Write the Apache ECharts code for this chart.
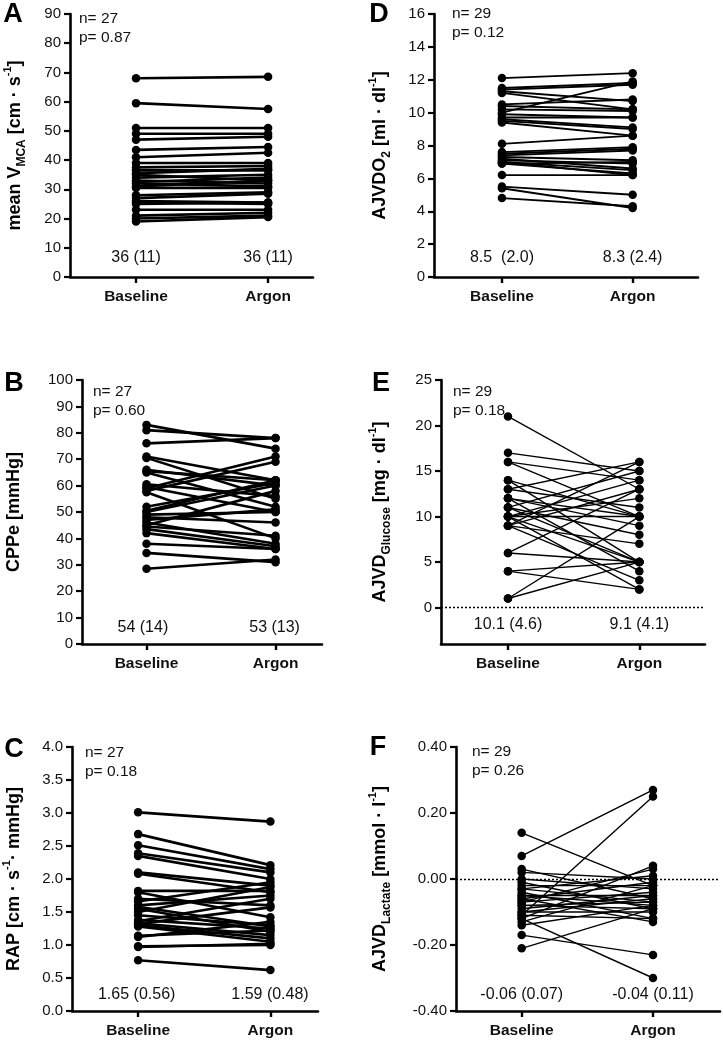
<!DOCTYPE html>
<html>
<head>
<meta charset="utf-8">
<script src="https://cdn.jsdelivr.net/npm/echarts@6/dist/echarts.min.js"></script>
<style>
html,body{margin:0;padding:0;background:#fff;}
#main{width:723px;height:1043px;}
</style>
</head>
<body>
<div id="main"></div>
<script>
// categories
var cats = ['Baseline', 'Argon'];

// A - mean V_MCA
var mcaBase  = [68,59.5,51,49,47,43.5,41,39,37.5,36.5,35.5,35,34,33,32.5,32,31,30.5,28,27,26,25.5,25,23,21,20,19];
var mcaArgon = [68.5,57.5,51,49,48,44.5,42.5,39,38,36.5,37,33,35,32,34,31,33,30.5,29,28.5,25.5,25,25.5,23,22,21,20.5];
// B - CPPe
var cppBase  = [83,81,76,71,70.5,66,65.5,65,60.5,59.5,59,58,57.5,52,50.5,50,49,48,47,46,45,44.5,43.5,42,38,34.5,28.5];
var cppArgon = [74,78,78,62,55,60,62,52,56,50,71,69,40,61,62,60,50,46,51,38,58,41,37,36,36,31,32];
// C - RAP
var rapBase  = [3.01,2.68,2.51,2.39,2.35,2.1,2.08,1.82,1.8,1.7,1.66,1.6,1.58,1.55,1.5,1.45,1.38,1.36,1.33,1.32,1.3,1.28,1.14,1.12,0.98,0.97,0.77];
var rapArgon = [2.87,2.21,2.15,2.1,2.0,1.9,1.8,1.82,1.42,1.6,1.95,1.75,1.28,1.2,1.88,1.3,1.25,1.7,1.15,1.57,1.1,1.05,1.22,1.35,1.0,1.02,0.62];
// D - AJVDO2
var do2Base  = [12.1,11.5,11.4,11.3,11.2,10.5,10.4,10.2,10.0,9.9,9.7,9.6,9.5,9.4,8.1,7.6,7.5,7.4,7.3,7.2,7.1,7.0,6.9,7.0,6.9,6.2,5.5,5.4,4.8];
var do2Argon = [12.4,11.8,11.7,10.7,10.2,10.8,10.2,10.1,11.9,9.7,9.7,9.1,9.0,8.6,8.6,7.9,7.8,7.7,7.1,6.6,6.9,6.5,6.3,6.2,7.0,6.2,5.0,4.2,4.3];
// E - AJVD glucose
var gluBase  = [21,17,16,16,14,14,13,13,12,12,12,11,11,11,10,10,10,10,10,9,9,9,9,6,6,4,4,1,1];
var gluArgon = [13,15,10,14,10,5,11,16,10,9,4,15,8,5,14,12,10,5,2,16,13,7,3,13,5,5,2,10,5];
// F - AJVD lactate
var lacBase  = [0.14,0.07,0.03,0.02,0.0,-0.01,-0.02,-0.03,-0.03,-0.04,-0.05,-0.05,-0.06,-0.06,-0.07,-0.07,-0.08,-0.08,-0.09,-0.10,-0.11,-0.11,-0.12,-0.12,-0.13,-0.14,-0.17,-0.21,-0.10];
var lacArgon = [-0.02,0.27,-0.06,0.0,-0.03,-0.09,-0.02,-0.07,0.01,-0.12,-0.05,-0.08,-0.01,-0.13,0.03,-0.04,-0.07,-0.09,-0.05,-0.06,0.25,-0.12,-0.3,0.04,-0.02,-0.08,-0.23,-0.09,-0.10];

// tick labels
var ticksA = [0,10,20,30,40,50,60,70,80,90];
var ticksB = [0,10,20,30,40,50,60,70,80,90,100];
var ticksC = [0,0.5,1.0,1.5,2.0,2.5,3.0,3.5,4.0];
var ticksD = [0,2,4,6,8,10,12,14,16];
var ticksE = [0,5,10,15,20,25];
var ticksF = [-0.4,-0.2,0,0.2,0.4];

// summary texts
var statsA = ['36 (11)', '36 (11)'];
var statsB = ['54 (14)', '53 (13)'];
var statsC = ['1.65 (0.56)', '1.59 (0.48)'];
var statsD = ['8.5  (2.0)', '8.3 (2.4)'];
var statsE = ['10.1 (4.6)', '9.1 (4.1)'];
var statsF = ['-0.06 (0.07)', '-0.04 (0.11)'];

var FONT = 'Liberation Sans, Arial, sans-serif';

var panels = [
  {letter:'A', lp:[13,15], grid:{left:70,top:14,width:243,height:263}, xr:[-0.5,1.34], yr:[0,90], ticks:ticksA, dec:0,
   name:'mean V{sub|MCA} [cm · s{sup|-1}]', gap:42, b:mcaBase, a:mcaArgon, lw:2.6, stats:statsA, sy:258,
   np:['n= 27','p= 0.87'], npx:79, npy:19},
  {letter:'B', lp:[14,384], grid:{left:77,top:380,width:245,height:264}, xr:[-0.5,1.36], yr:[0,100], ticks:ticksB, dec:0,
   name:'CPPe [mmHg]', gap:55, b:cppBase, a:cppArgon, lw:2.6, stats:statsB, sy:628,
   np:['n= 27','p= 0.60'], npx:93, npy:392},
  {letter:'C', lp:[14,750], grid:{left:70,top:747,width:248,height:264}, xr:[-0.5,1.36], yr:[0,4], ticks:ticksC, dec:1,
   name:'RAP [cm · s{sup|-1}· mmHg]', gap:45, b:rapBase, a:rapArgon, lw:2.6, stats:statsC, sy:995,
   np:['n= 27','p= 0.18'], npx:85, npy:753},
  {letter:'D', lp:[379,15], grid:{left:434,top:14,width:264,height:263}, xr:[-0.52,1.5], yr:[0,16], ticks:ticksD, dec:0,
   name:'AJVDO{sub|2} [ml · dl{sup|-1}]', gap:41, b:do2Base, a:do2Argon, lw:1.9, stats:statsD, sy:258,
   np:['n= 29','p= 0.12'], npx:452, npy:14},
  {letter:'E', lp:[381,384], grid:{left:441,top:380,width:264,height:264}, xr:[-0.51,1.5], yr:[-4,25], ticks:ticksE, dec:0,
   name:'AJVD{sub|Glucose} [mg · dl{sup|-1}]', gap:48, b:gluBase, a:gluArgon, lw:1.4, stats:statsE, sy:625, zero:true,
   np:['n= 29','p= 0.18'], npx:453, npy:392},
  {letter:'F', lp:[378,748], grid:{left:456,top:747,width:264,height:264}, xr:[-0.5,1.51], yr:[-0.4,0.4], ticks:ticksF, dec:2,
   name:'AJVD{sub|Lactate} [mmol · l{sup|-1}]', gap:63, b:lacBase, a:lacArgon, lw:1.4, stats:statsF, sy:995, zero:true,
   np:['n= 29','p= 0.26'], npx:472, npy:752}
];

var grids = [], xAxes = [], yAxes = [], series = [], graphics = [];

panels.forEach(function (p, i) {
  grids.push(p.grid);
  xAxes.push({
    type:'value', gridIndex:i, min:p.xr[0], max:p.xr[1],
    axisLine:{show:true, onZero:false, lineStyle:{color:'#000', width:2.6}},
    axisTick:{show:true, customValues:[0,1], length:6, lineStyle:{color:'#000', width:2.4}},
    axisLabel:{customValues:[0,1], margin:12, fontFamily:FONT, fontSize:15.5, fontWeight:'bold', color:'#111',
      formatter:function (v) { return cats[Math.round(v)]; }},
    splitLine:{show:false}
  });
  yAxes.push({
    type:'value', gridIndex:i, min:p.yr[0], max:p.yr[1],
    axisLine:{show:true, onZero:false, lineStyle:{color:'#000', width:2.6}},
    axisTick:{show:true, customValues:p.ticks, length:6, lineStyle:{color:'#000', width:2.2}},
    axisLabel:{customValues:p.ticks, margin:9, fontFamily:FONT, fontSize:15, color:'#111',
      formatter:function (v) { return Number(v).toFixed(p.dec); }},
    splitLine:{show:false},
    name:p.name, nameLocation:'middle', nameGap:p.gap,
    nameTextStyle:{fontFamily:FONT, fontSize:18, fontWeight:'bold', color:'#000', lineHeight:26,
      rich:{
        sub:{fontFamily:FONT, fontSize:12, fontWeight:'bold', color:'#000', verticalAlign:'bottom', lineHeight:26},
        sup:{fontFamily:FONT, fontSize:11, fontWeight:'bold', color:'#000', verticalAlign:'top', lineHeight:26}
      }}
  });
  p.b.forEach(function (bv, k) {
    var s = {
      type:'line', xAxisIndex:i, yAxisIndex:i, silent:true, animation:false,
      data:[[0, bv], [1, p.a[k]]],
      symbol:'circle', symbolSize:8.5,
      itemStyle:{color:'#000'},
      lineStyle:{color:'#000', width:p.lw}
    };
    if (k === 0 && p.zero) {
      s.markLine = {silent:true, symbol:'none', label:{show:false},
        lineStyle:{color:'#000', type:[2,2], width:1.3}, data:[{yAxis:0}]};
    }
    series.push(s);
  });
  // panel letter
  graphics.push({type:'text', x:p.lp[0], y:p.lp[1],
    style:{text:p.letter, font:'bold 27px ' + FONT, fill:'#000', align:'center', verticalAlign:'middle'}});
  // n / p text
  graphics.push({type:'text', x:p.npx, y:p.npy,
    style:{text:p.np[0], font:'15.5px ' + FONT, fill:'#111', align:'left', verticalAlign:'middle'}});
  graphics.push({type:'text', x:p.npx, y:p.npy + 19,
    style:{text:p.np[1], font:'15.5px ' + FONT, fill:'#111', align:'left', verticalAlign:'middle'}});
  // summary stats under each category
  [0, 1].forEach(function (c) {
    var x = p.grid.left + (c - p.xr[0]) / (p.xr[1] - p.xr[0]) * p.grid.width;
    graphics.push({type:'text', x:x, y:p.sy,
      style:{text:p.stats[c], font:'16px ' + FONT, fill:'#111', align:'center', verticalAlign:'middle'}});
  });
});

var chart = echarts.init(document.getElementById('main'));
chart.setOption({
  backgroundColor:'#fff',
  animation:false,
  grid:grids,
  xAxis:xAxes,
  yAxis:yAxes,
  series:series,
  graphic:graphics
});
</script>
</body>
</html>
